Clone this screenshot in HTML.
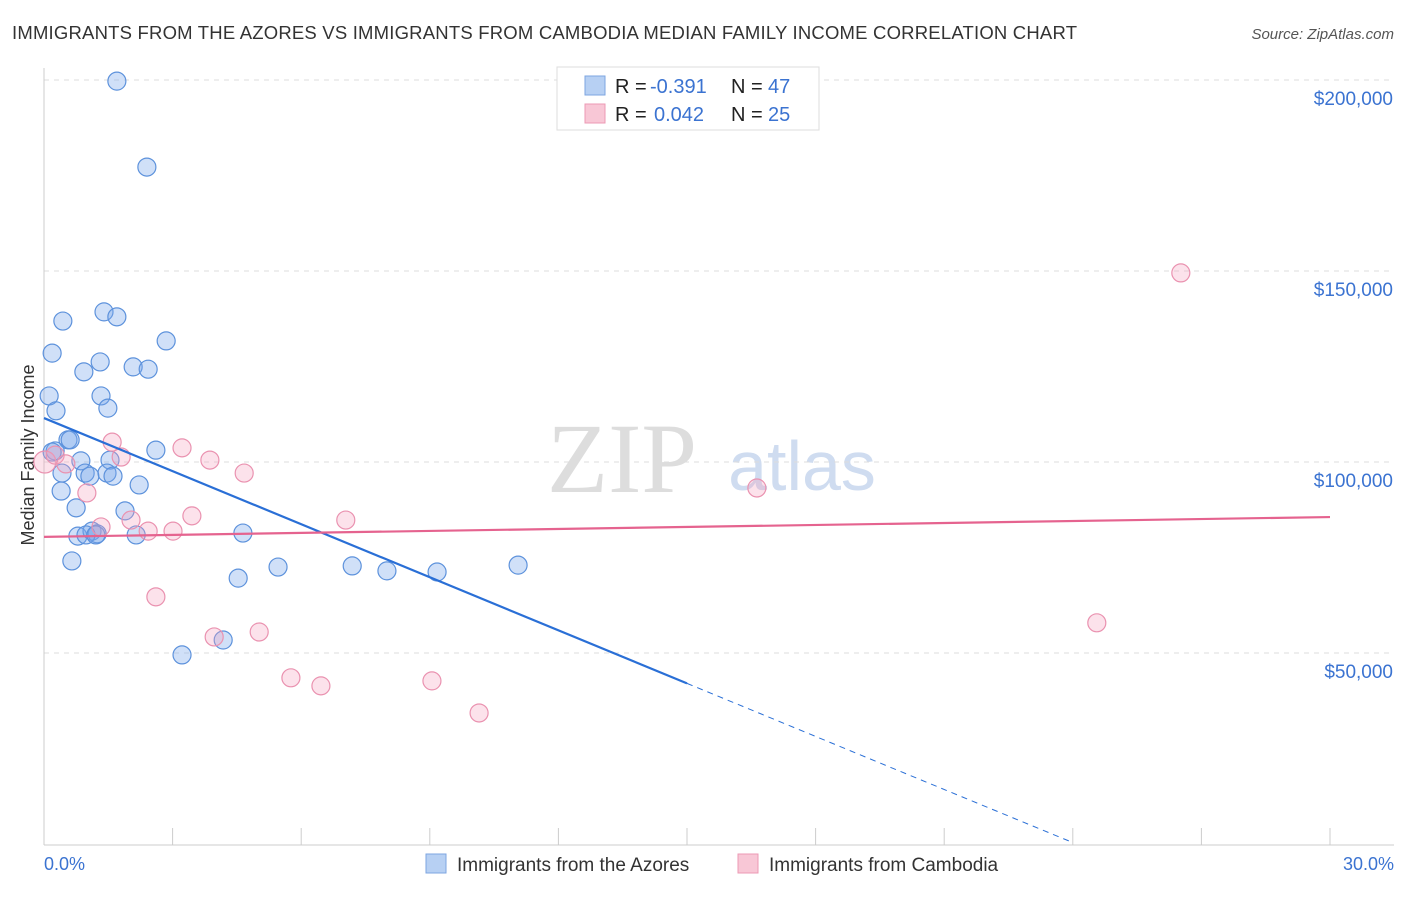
<!DOCTYPE html>
<html><head><meta charset="utf-8"><style>
body{margin:0;background:#fff;font-family:"Liberation Sans",sans-serif}
#c{position:relative;width:1406px;height:892px}
</style></head><body>
<div id="c">
<svg id="s" width="1406" height="892">
<text x="12" y="39" font-size="18.5" fill="#333" textLength="1065">IMMIGRANTS FROM THE AZORES VS IMMIGRANTS FROM CAMBODIA MEDIAN FAMILY INCOME CORRELATION CHART</text>
<text x="1394" y="39" font-size="15" fill="#555" font-style="italic" text-anchor="end">Source: ZipAtlas.com</text>
<text x="622" y="492" font-size="100" fill="#ddd" font-family="Liberation Serif" text-anchor="middle">ZIP</text>
<text x="802" y="490" font-size="70" fill="#cfdcf0" text-anchor="middle">atlas</text>
<text transform="translate(34,455) rotate(-90)" font-size="18" fill="#333" text-anchor="middle">Median Family Income</text>
<g id="grid"></g><g id="pts"></g><g id="lines"></g>
<text x="44" y="870" font-size="18" fill="#3b73d1">0.0%</text>
<text x="1394" y="870" font-size="18" fill="#3b73d1" text-anchor="end">30.0%</text>
<g font-size="20">
<rect x="557" y="67" width="262" height="63" fill="#fff" stroke="#ddd"/>
<rect x="585" y="76" width="20" height="19" fill="#b7d0f3" stroke="#7ea6e0"/>
<rect x="585" y="104" width="20" height="19" fill="#f8c7d6" stroke="#ec9ab4"/>
<text x="615" y="93" fill="#222">R =</text><text x="650" y="93" fill="#3b73d1">-0.391</text>
<text x="731" y="93" fill="#222">N =</text><text x="768" y="93" fill="#3b73d1">47</text>
<text x="615" y="121" fill="#222">R =</text><text x="654" y="121" fill="#3b73d1">0.042</text>
<text x="731" y="121" fill="#222">N =</text><text x="768" y="121" fill="#3b73d1">25</text>
</g>
<g>
<rect x="426" y="854" width="20" height="19" fill="#b7d0f3" stroke="#7ea6e0"/>
<text x="457" y="871" font-size="19" fill="#333">Immigrants from the Azores</text>
<rect x="738" y="854" width="20" height="19" fill="#f8c7d6" stroke="#ec9ab4"/>
<text x="769" y="871" font-size="19" fill="#333">Immigrants from Cambodia</text>
</g>
</svg></div>
<script>
const yTicks=[50000,100000,150000,200000];
const yTickLabels=["$50,000","$100,000","$150,000","$200,000"];
const azoresX=[1.70,2.40,0.44,1.40,1.70,0.19,2.85,1.31,0.93,2.08,2.43,0.12,1.33,0.28,1.49,0.56,0.61,0.26,2.61,0.42,0.86,1.54,0.96,1.07,1.47,1.61,0.40,2.22,0.75,1.89,0.79,1.12,1.24,0.98,2.15,4.64,0.65,4.53,5.46,7.19,8.00,9.17,11.06,3.22,4.18,0.19,1.21];
const azoresY=[199.7,177.2,136.9,139.3,138.0,128.5,131.7,126.2,123.6,124.9,124.3,117.3,117.3,113.4,114.1,105.8,105.8,102.9,103.1,97.1,100.3,100.5,97.1,96.3,97.1,96.3,92.4,94.0,88.0,87.2,80.6,81.9,81.2,80.9,80.9,81.4,74.1,69.6,72.5,72.8,71.5,71.2,73.0,49.5,53.4,102.6,80.9];
const cambX=[0.02,0.26,0.51,1.00,1.59,1.80,1.33,2.03,2.43,3.22,3.01,3.45,3.87,4.67,2.61,3.97,5.02,5.76,6.46,7.04,9.05,10.15,16.63,24.56,26.52];
const cambY=[100.0,101.8,99.5,91.9,105.2,101.3,83.0,84.8,81.9,103.7,81.9,85.9,100.5,97.1,64.7,54.2,55.5,43.5,41.4,84.8,42.7,34.3,93.2,57.9,149.5];
const azTrend=[111.5,-4.63], cambTrend=[80.4,0.173];
const NS="http://www.w3.org/2000/svg";
const X=v=>44+v*1286/30, Y=v=>844-v*3.82/1000;
function mk(t,a,p){const e=document.createElementNS(NS,t);for(const k in a)e.setAttribute(k,a[k]);p.appendChild(e);return e;}
const g=document.getElementById('grid');
yTicks.forEach((t,i)=>{
 const l=mk('line',{x1:44,x2:1394,y1:Y(t),y2:Y(t),stroke:'#ddd','stroke-dasharray':'5,5'},g);
 
 
 const tx=mk('text',{x:1393,y:Y(t)+25,'font-size':19,fill:'#3b73d1','text-anchor':'end'},g);
 tx.textContent=yTickLabels[i];
 
 
});
mk('line',{x1:44,x2:44,y1:68,y2:845,stroke:'#ccc'},g);
mk('line',{x1:44,x2:1394,y1:845,y2:845,stroke:'#ccc'},g);
for(let i=0;i<=10;i++){const t=mk('line',{x1:X(i*3),x2:X(i*3),y1:828,y2:845,stroke:'#ccc'},g);
 
 }
const p=document.getElementById('pts');
azoresX.forEach((x,i)=>{const c=mk('circle',{cx:X(x),cy:Y(azoresY[i]*1000),r:9,fill:'rgba(120,165,235,0.35)',stroke:'#5d92dc','stroke-width':1.2},p);
 
 });
cambX.forEach((x,i)=>{const c=mk('circle',{cx:X(x),cy:Y(cambY[i]*1000),r:i==0?11:9,fill:'rgba(245,160,190,0.3)',stroke:'#ea92b0','stroke-width':1.2},p);
 
 });
const L=document.getElementById('lines');
const fa=x=>(azTrend[0]+azTrend[1]*x)*1000, fc=x=>(cambTrend[0]+cambTrend[1]*x)*1000;
let a=mk('line',{x1:X(0),y1:Y(fa(0)),x2:X(15),y2:Y(fa(15)),stroke:'#2a6fd6','stroke-width':2.2},L);


a=mk('line',{x1:X(15),y1:Y(fa(15)),x2:X(24),y2:Y(fa(24)),stroke:'#2a6fd6','stroke-width':1,'stroke-dasharray':'6,5'},L);


a=mk('line',{x1:X(0),y1:Y(fc(0)),x2:X(30),y2:Y(fc(30)),stroke:'#e5638f','stroke-width':2.2},L);


</script></body></html>
